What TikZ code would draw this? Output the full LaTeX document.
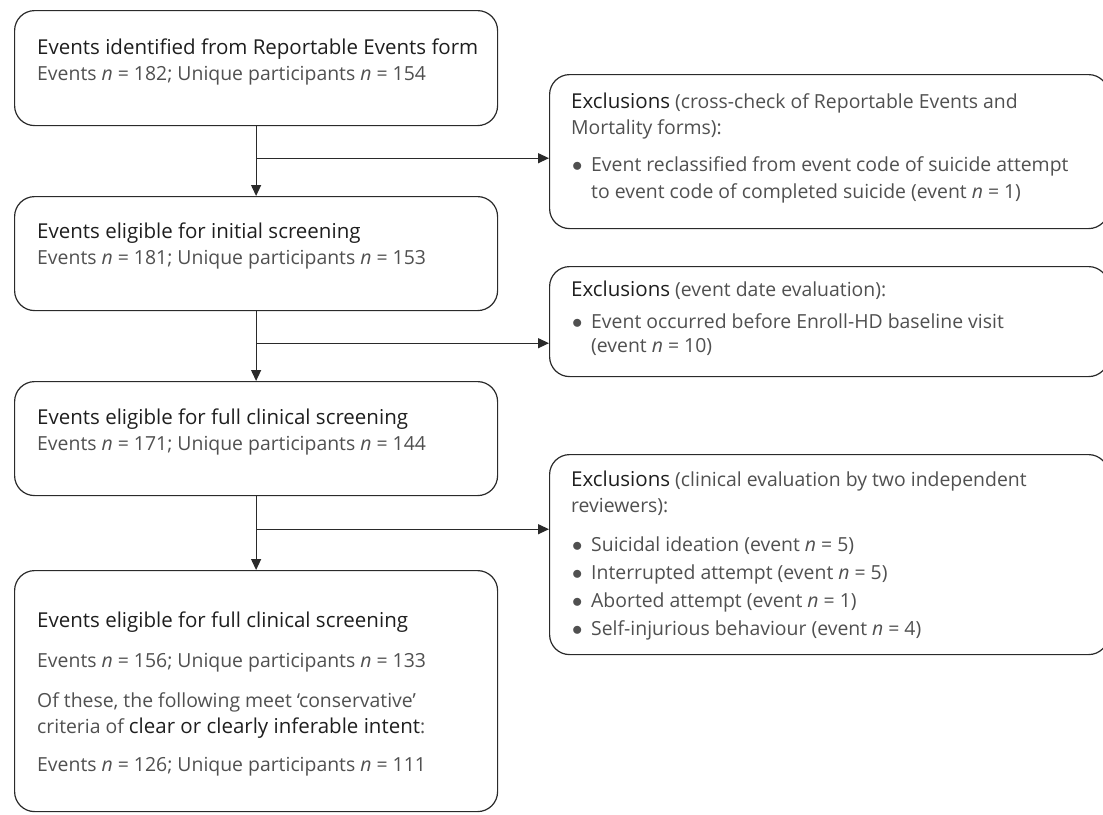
\documentclass[tikz,border=0pt]{standalone}
\usepackage{fontspec}
\setmainfont{Open Sans}
\usetikzlibrary{arrows.meta,calc}
\definecolor{linec}{HTML}{2A2A2A}
\definecolor{headc}{HTML}{1E1E1E}
\definecolor{bodyc}{HTML}{505050}
\newcommand{\hd}[1]{{\fontsize{20.5}{24}\selectfont\color{headc}#1}}
\newcommand{\bul}{\raisebox{-0.5pt}{$\bullet$}}
\begin{document}
\begin{tikzpicture}[x=1pt,y=-1pt,
  box/.style={draw=linec,line width=1.2pt,rounded corners=20pt,anchor=north west,inner sep=0pt},
  head/.style={anchor=base west,inner sep=0pt,text=headc,font=\fontsize{20.5}{24}\selectfont},
  body/.style={anchor=base west,inner sep=0pt,text=bodyc,font=\fontsize{19.4}{23}\selectfont},
  arr/.style={draw=linec,line width=1.2pt,-{Triangle[length=11pt,width=10pt]}}]
\useasboundingbox (0,0) rectangle (1103,814);
% left boxes
\node[box,minimum width=483pt,minimum height=115pt] (b1) at (14,10) {};
\node[box,minimum width=483pt,minimum height=114pt] (b2) at (14,196) {};
\node[box,minimum width=483pt,minimum height=114pt] (b3) at (14,381) {};
\node[box,minimum width=483pt,minimum height=241pt] (b4) at (14,570) {};
% right boxes
\node[box,minimum width=559pt,minimum height=154pt] (r1) at (549,74) {};
\node[box,minimum width=559pt,minimum height=110pt] (r2) at (549,266) {};
\node[box,minimum width=559pt,minimum height=200pt] (r3) at (549,454) {};
% texts left
\node[head] (t1a) at (37,54) {Events identified from Reportable Events form};
\node[body] (t1b) at (37,80) {Events \textit{n} = 182; Unique participants \textit{n} = 154};
\node[head] (t2a) at (37,238) {Events eligible for initial screening};
\node[body] (t2b) at (37,264) {Events \textit{n} = 181; Unique participants \textit{n} = 153};
\node[head] (t3a) at (37,424) {Events eligible for full clinical screening};
\node[body] (t3b) at (37,450) {Events \textit{n} = 171; Unique participants \textit{n} = 144};
\node[head] (t4a) at (37,627) {Events eligible for full clinical screening};
\node[body] (t4b) at (37,667) {Events \textit{n} = 156; Unique participants \textit{n} = 133};
\node[body] (t4c) at (37,707) {Of these, the following meet ‘conservative’};
\node[body] (t4d) at (37,733) {criteria of \hd{clear or clearly inferable intent}:};
\node[body] (t4e) at (37,771) {Events \textit{n} = 126; Unique participants \textit{n} = 111};
% texts right
\node[body] (u1a) at (571,108) {\hd{Exclusions} (cross-check of Reportable Events and};
\node[body] (u1b) at (571,134) {Mortality forms):};
\node[body] (u1c) at (572,171) {\bul};
\node[body] (u1d) at (591,171) {Event reclassified from event code of suicide attempt};
\node[body] (u1e) at (591,198) {to event code of completed suicide (event \textit{n} = 1)};
\node[body] (u2a) at (571,296) {\hd{Exclusions} (event date evaluation):};
\node[body] (u2c) at (572,328) {\bul};
\node[body] (u2d) at (591,328) {Event occurred before Enroll-HD baseline visit};
\node[body] (u2e) at (591,352) {(event \textit{n} = 10)};
\node[body] (u3a) at (571,486) {\hd{Exclusions} (clinical evaluation by two independent};
\node[body] (u3b) at (571,512) {reviewers):};
\node[body] (u3c) at (572,551) {\bul};
\node[body] (u3d) at (591,551) {Suicidal ideation (event \textit{n} = 5)};
\node[body] (u3e) at (572,579) {\bul};
\node[body] (u3f) at (591,579) {Interrupted attempt (event \textit{n} = 5)};
\node[body] (u3g) at (572,607) {\bul};
\node[body] (u3h) at (591,607) {Aborted attempt (event \textit{n} = 1)};
\node[body] (u3i) at (572,635) {\bul};
\node[body] (u3j) at (591,635) {Self-injurious behaviour (event \textit{n} = 4)};
% connectors
\coordinate (j1) at ($(b1.south)+(0,32)$);
\coordinate (j2) at ($(b2.south)+(0,32)$);
\coordinate (j3) at ($(b3.south)+(0,33)$);
\draw[arr] (b1.south) -- (b2.north);
\draw[arr] (b2.south) -- (b3.north);
\draw[arr] (b3.south) -- (b4.north);
\draw[arr] (j1) -- (j1 -| r1.west);
\draw[arr] (j2) -- (j2 -| r2.west);
\draw[arr] (j3) -- (j3 -| r3.west);
\end{tikzpicture}
\end{document}
